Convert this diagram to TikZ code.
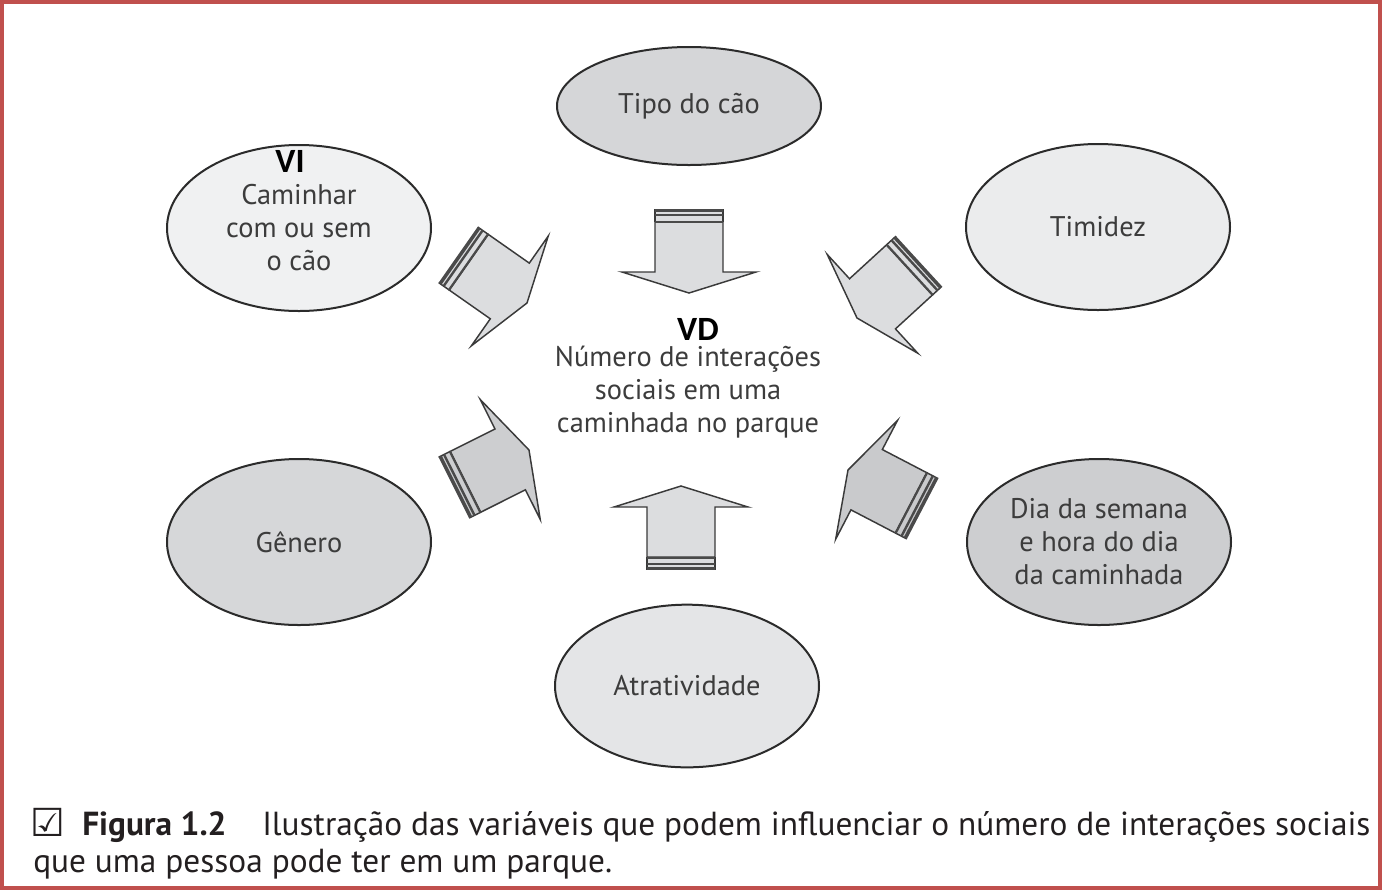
\documentclass[tikz,border=0pt]{standalone}
\usepackage{fontspec}
\setmainfont{PT Sans}
\newfontfamily\vfont{Carlito}
\newfontfamily\symfont{DejaVu Sans}
\usetikzlibrary{shapes.geometric}
\definecolor{frame}{HTML}{C0504D}
\definecolor{eline}{HTML}{2B2B2B}
\definecolor{etext}{HTML}{3C3C3C}
\definecolor{captext}{HTML}{231F20}
\definecolor{aline}{HTML}{3A3A3A}
\definecolor{stripe}{HTML}{4A4A4A}
\definecolor{gA}{HTML}{D5D6D8}
\definecolor{gB}{HTML}{F0F1F2}
\definecolor{gC}{HTML}{EBECED}
\definecolor{gD}{HTML}{D6D7D9}
\definecolor{gE}{HTML}{CDCED0}
\definecolor{gF}{HTML}{E4E5E7}
\definecolor{aA}{HTML}{DCDDDF}
\definecolor{aB}{HTML}{CDCED0}
\definecolor{aC}{HTML}{C9CACC}
\tikzset{
  bubble/.style={ellipse, draw=eline, line width=1.5pt, inner sep=0pt,
    minimum width=198pt, minimum height=124.5pt, align=center, text=etext,
    font=\fontsize{21.3}{24.75}\selectfont},
  vlabel/.style={font=\vfont\bfseries\fontsize{25.5}{26}\selectfont, text=black, inner sep=0pt},
  captxt/.style={anchor=base west, inner sep=0pt, text=captext, font=\fontsize{25}{30}\selectfont},
  barrow/.pic={
    \path[fill=#1] (-84,-34) rectangle (-71,34);
    \filldraw[fill=#1, draw=aline, line width=1.1pt, line join=miter]
      (0,0) -- (-21,-67) -- (-21,-34) -- (-71,-34) -- (-71,34) -- (-21,34) -- (-21,67) -- cycle;
    \draw[aline, line width=1.1pt] (-71,-34) -- (-84,-34) (-71,34) -- (-84,34);
    \draw[stripe, line width=2.6pt] (-82.3,-34) -- (-82.3,34);
    \draw[stripe, line width=1.8pt] (-78,-34) -- (-78,34);
    \draw[stripe, line width=1.5pt] (-71.5,-34) -- (-71.5,34);
  }
}
\begin{document}
\begin{tikzpicture}[x=0.75pt,y=-0.75pt]
\useasboundingbox (0,0) rectangle (1382,890);
\draw[frame, line width=2.4pt] (2,2) rectangle (1380,888);

% ellipses
\node[bubble, fill=gA, minimum height=88.5pt] (tipo) at (689,106) {Tipo do cão};
\node[bubble, fill=gB] (caminhar) at (299,228) {Caminhar\\com ou sem\\o cão};
\node[bubble, fill=gC] (timidez) at (1098,227) {Timidez};
\node[bubble, fill=gD] (genero) at (299,542) {Gênero};
\node[bubble, fill=gE] (dia) at (1099,542) {Dia da semana\\e hora do dia\\da caminhada};
\node[bubble, fill=gF, minimum height=122pt] (atrat) at (687,686) {Atratividade};

\node[vlabel] (vi) at (290,161) {VI};
\node[vlabel] (vd) at (698,329) {VD};
\node[align=center, text=etext, inner sep=0pt, font=\fontsize{21.3}{24.75}\selectfont] (dv) at (688,392)
  {Número de interações\\sociais em uma\\caminhada no parque};

% arrow tips
\coordinate (t1) at (689,293);
\coordinate (t2) at (681,486);
\coordinate (t3) at (527,303);
\coordinate (t4) at (857,318);
\coordinate (t5) at (529,450);
\coordinate (t6) at (848,470);
\pic[rotate=-90] at (t1) {barrow=aA};
\pic[rotate=90] at (t2) {barrow=aA};
\pic[rotate=-35] at (t3) {barrow=aA};
\pic[rotate=-137.5] at (t4) {barrow=aA};
\pic[rotate=26.6] at (t5) {barrow=aB};
\pic[rotate=152.5] at (t6) {barrow=aC};

% caption
\node[captxt, font=\symfont\fontsize{29}{30}\selectfont] (chk) at (30,836) {☑};
\node[captxt, font=\bfseries\fontsize{25}{30}\selectfont] (fig) at (82,835) {Figura 1.2};
\node[captxt] (cap1) at (262,835) {Ilustração das variáveis que podem influenciar o número de interações sociais};
\node[captxt] (cap2) at (33,872) {que uma pessoa pode ter em um parque.};
\end{tikzpicture}
\end{document}
